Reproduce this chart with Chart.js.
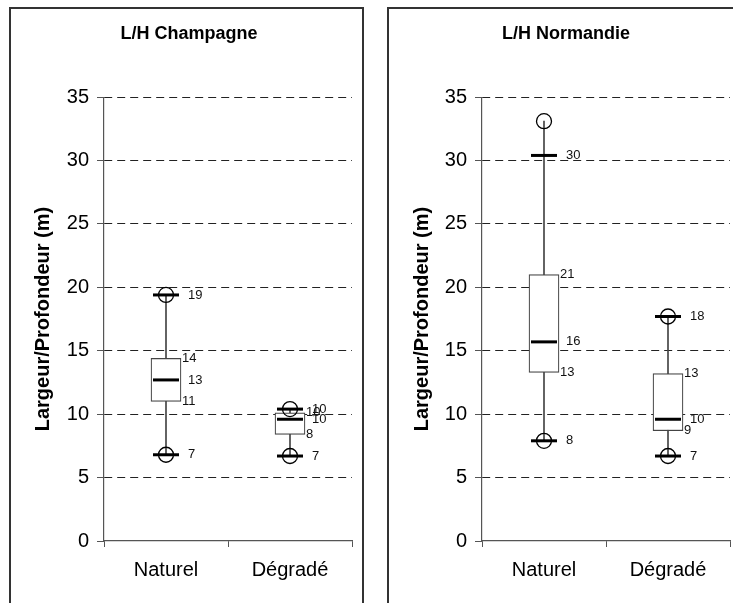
<!DOCTYPE html>
<html lang="fr">
<head>
<meta charset="utf-8">
<title>L/H Champagne - Normandie</title>
<script src="https://cdn.jsdelivr.net/npm/chart.js@4.4.1/dist/chart.umd.min.js"></script>
<style>
    html, body { margin: 0; padding: 0; background: #fff; overflow: hidden; }
    #page { position: relative; width: 733px; height: 603px; overflow: hidden; }
    .cadre { position: absolute; top: 7px; height: 640px; border: 2px solid #333; box-sizing: border-box; z-index: 2; pointer-events: none; }
    #cadreChampagne { left: 9px; width: 355px; }
    #cadreNormandie { left: 387px; width: 400px; }
    canvas { position: absolute; top: 0; z-index: 1; }
    #champagneChart { left: 26px; }
    #normandieChart { left: 402px; }
</style>
</head>
<body>
<div id="page">
    <div class="cadre" id="cadreChampagne"></div>
    <div class="cadre" id="cadreNormandie"></div>
    <canvas id="champagneChart" width="328" height="603"></canvas>
    <canvas id="normandieChart" width="330" height="603"></canvas>
</div>

<script>
/* ==============================================
   DONNÉES
   ============================================== */
const categories = ['Naturel', 'Dégradé'];
const yTicks = [0, 5, 10, 15, 20, 25, 30, 35];

// L/H Champagne
const champMin = [6.8, 6.7];
const champQ1 = [11.0, 8.4];
const champMediane = [12.7, 9.6];
const champQ3 = [14.4, 10.1];
const champMax = [19.4, 10.4];
const champCercleHaut = [19.4, 10.4];
const champCercleBas = [6.8, 6.7];

// L/H Normandie
const normMin = [7.9, 6.7];
const normQ1 = [13.3, 8.7];
const normMediane = [15.7, 9.6];
const normQ3 = [21.0, 13.2];
const normMax = [30.4, 17.7];
const normCercleHaut = [33.1, 17.7];
const normCercleBas = [7.9, 6.7];

Chart.defaults.font.family = '"Liberation Sans", Arial, sans-serif';
Chart.defaults.color = '#000';

let graphiqueChampagne;
let graphiqueNormandie;

/* ==============================================
   PLUGIN DES ÉTIQUETTES DE VALEURS
   ============================================== */
function pluginEtiquettes(series) {
    return {
        id: 'etiquettes',
        afterDatasetsDraw(chart) {
            const { ctx, scales: { x, y } } = chart;
            ctx.save();
            ctx.font = '13px "Liberation Sans", Arial, sans-serif';
            ctx.fillStyle = '#111';
            ctx.textAlign = 'left';
            ctx.textBaseline = 'middle';
            series.forEach(s => {
                s.valeurs.forEach((v, i) => {
                    ctx.fillText(String(Math.round(v)), x.getPixelForValue(i) + s.decalage, y.getPixelForValue(v));
                });
            });
            ctx.restore();
        }
    };
}

/* ==============================================
   CRÉATION D'UNE BOÎTE À MOUSTACHES
   ============================================== */
function creerBoxplot(idCanvas, titre, min, q1, mediane, q3, max, cercleHaut, cercleBas, largeurAxeY, paddingTitreY) {
    const ctx = document.getElementById(idCanvas).getContext('2d');

    const cercle = (data) => ({
        type: 'line', data: data, showLine: false,
        pointStyle: 'circle', pointRadius: 7.5, pointBorderWidth: 1.3,
        pointBorderColor: '#000', pointBackgroundColor: 'rgba(0,0,0,0)'
    });
    const trait = (data) => ({
        type: 'line', data: data, showLine: false,
        pointStyle: 'line', pointRadius: 13, pointBorderWidth: 3,
        pointBorderColor: '#000', pointBackgroundColor: '#000'
    });

    return new Chart(ctx, {
        type: 'bar',
        data: {
            labels: categories,
            datasets: [
                cercle(cercleHaut),
                cercle(cercleBas),
                trait(max),
                trait(min),
                trait(mediane),
                {
                    label: 'boite',
                    data: q1.map((v, i) => [v, q3[i]]),
                    backgroundColor: '#fff',
                    borderColor: '#444',
                    borderWidth: 1.2,
                    borderSkipped: false,
                    barThickness: 30,
                    grouped: false
                },
                {
                    label: 'moustache',
                    data: min.map((v, i) => [v, Math.max(max[i], cercleHaut[i])]),
                    backgroundColor: '#444',
                    barThickness: 1,
                    grouped: false
                }
            ]
        },
        options: {
            responsive: false,
            animation: false,
            events: [],
            // pas de marge auto pour les points : l'axe va presque jusqu'au bord
            layout: { padding: { left: 0, right: 2, top: 0, bottom: 0 }, autoPadding: false },
            plugins: {
                legend: { display: false },
                tooltip: { enabled: false },
                title: {
                    display: true,
                    text: titre,
                    color: '#000',
                    font: { size: 18, weight: 'bold' },
                    padding: { top: 23.5, bottom: 52 }
                }
            },
            scales: {
                x: {
                    offset: true,
                    grid: { display: true, offset: true, drawOnChartArea: false, tickLength: 6, tickColor: '#555' },
                    border: { display: true, color: '#555', width: 1.2 },
                    ticks: { color: '#000', font: { size: 20 }, padding: 11, maxRotation: 0 },
                    afterFit: s => { s.height = 62; }
                },
                y: {
                    min: 0,
                    max: 35,
                    afterBuildTicks: s => { s.ticks = yTicks.map(v => ({ value: v })); },
                    grid: {
                        color: c => (c.tick && c.tick.value === 0) ? 'rgba(0,0,0,0)' : '#222',
                        lineWidth: 1,
                        tickLength: 7,
                        tickColor: '#555'
                    },
                    border: { display: true, color: '#555', width: 1.2, dash: [8, 5] },
                    ticks: { color: '#000', font: { size: 20 }, padding: 8 },
                    title: {
                        display: true,
                        text: 'Largeur/Profondeur (m)',
                        color: '#000',
                        font: { size: 20, weight: 'bold' },
                        padding: { top: paddingTitreY, bottom: 0 }
                    },
                    afterFit: s => { s.width = largeurAxeY; }
                }
            }
        },
        plugins: [pluginEtiquettes([
            { valeurs: max, decalage: 22 },
            { valeurs: q3, decalage: 16 },
            { valeurs: mediane, decalage: 22 },
            { valeurs: q1, decalage: 16 },
            { valeurs: min, decalage: 22 }
        ])]
    });
}

/* ==============================================
   EXÉCUTION INITIALE
   ============================================== */
graphiqueChampagne = creerBoxplot('champagneChart', 'L/H Champagne',
    champMin, champQ1, champMediane, champQ3, champMax, champCercleHaut, champCercleBas, 78, 5.5);

graphiqueNormandie = creerBoxplot('normandieChart', 'L/H Normandie',
    normMin, normQ1, normMediane, normQ3, normMax, normCercleHaut, normCercleBas, 80, 8);
</script>
</body>
</html>
